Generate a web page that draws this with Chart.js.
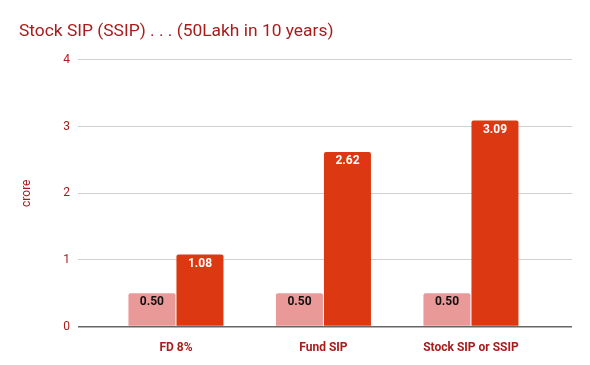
<!DOCTYPE html>
<html lang="en">
<head>
  <meta charset="UTF-8">
  <title>Stock SIP (SSIP)</title>
  <script src="https://cdn.jsdelivr.net/npm/chart.js"></script>
  <style>
    body { margin: 0; background: #fff; }
    #wrap { width: 590px; height: 365px; }
  </style>
</head>
<body>
  <div id="wrap"><canvas id="sipChart"></canvas></div>

  <script>
    const categories = ["FD 8%", "Fund SIP", "Stock SIP or SSIP"];
    const invested = [0.50, 0.50, 0.50];
    const maturity = [1.08, 2.62, 3.09];
    const yTicks = [0, 1, 2, 3, 4];

    const darkRed = '#a81c1c';

    // value labels drawn inside the top of each bar
    const barLabels = {
      id: 'barLabels',
      afterDatasetsDraw(chart) {
        const ctx = chart.ctx;
        ctx.save();
        ctx.font = 'bold 12px Roboto';
        ctx.textAlign = 'center';
        ctx.textBaseline = 'middle';
        chart.data.datasets.forEach((ds, di) => {
          chart.getDatasetMeta(di).data.forEach((bar, i) => {
            ctx.fillStyle = ds.labelColor;
            ctx.fillText(ds.data[i].y.toFixed(2), bar.x, bar.y + 9);
          });
        });
        ctx.restore();
      }
    };

    const toPoints = arr => arr.map((v, i) => ({ x: i, y: v }));

    new Chart(document.getElementById('sipChart'), {
      type: 'bar',
      data: {
        datasets: [
          { label: 'Invested', data: toPoints(invested), backgroundColor: '#ea9999', labelColor: '#111' },
          { label: 'Value', data: toPoints(maturity), backgroundColor: '#dc3912', labelColor: '#fff' }
        ]
      },
      plugins: [barLabels],
      options: {
        responsive: true,
        maintainAspectRatio: false,
        animation: false,
        categoryPercentage: 0.651,
        barPercentage: 0.979,
        borderRadius: { topLeft: 2, topRight: 2 },
        borderSkipped: 'bottom',
        layout: { padding: { left: 19, right: 18, bottom: 4 } },
        plugins: {
          legend: { display: false },
          tooltip: { enabled: false },
          title: {
            display: true,
            text: 'Stock SIP (SSIP) . . . (50Lakh in 10 years)',
            align: 'start',
            color: darkRed,
            font: { family: 'Roboto', size: 17.4, weight: 'normal' },
            padding: { top: 21, bottom: 18 }
          }
        },
        scales: {
          x: {
            type: 'linear',
            bounds: 'data',
            offset: false,
            min: -0.664,
            max: 2.685,
            grid: { display: false },
            border: { display: false },
            afterBuildTicks: scale => { scale.ticks = categories.map((c, i) => ({ value: i })); },
            ticks: {
              color: darkRed,
              font: { family: 'Roboto', size: 12, weight: 'bold' },
              padding: 6,
              callback: v => categories[v]
            }
          },
          y: {
            min: 0,
            max: 4,
            afterBuildTicks: scale => { scale.ticks = yTicks.map(v => ({ value: v })); },
            afterFit: scale => { scale.width = 59; },
            grid: {
              drawTicks: false,
              color: c => c.tick.value === 0 ? '#666' : '#d0d0d0',
              lineWidth: c => c.tick.value === 0 ? 1.5 : 1
            },
            border: { display: false },
            ticks: {
              color: darkRed,
              font: { family: 'Roboto', size: 12 },
              padding: 8
            },
            title: {
              display: true,
              text: 'crore',
              color: darkRed,
              font: { family: 'Roboto', size: 12 },
              padding: { top: 1, bottom: 0 }
            }
          }
        }
      }
    });
  </script>
</body>
</html>
